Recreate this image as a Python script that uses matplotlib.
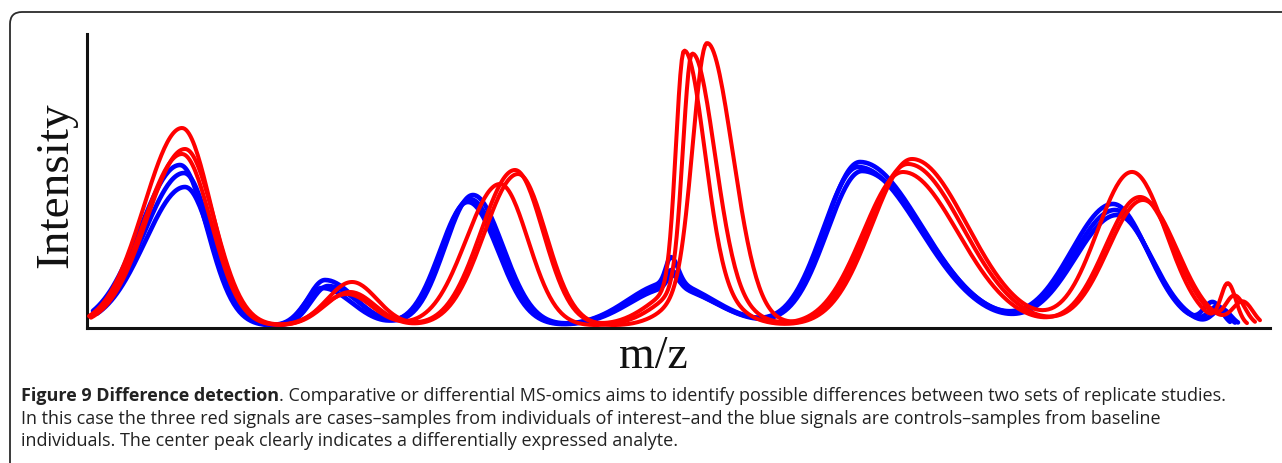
import numpy as np
import matplotlib.pyplot as plt
from matplotlib.patches import FancyBboxPatch
from matplotlib.transforms import IdentityTransform

# peak tables (x in axis pixels from the y-axis, height in pixels above the x-axis)
# each row is one replicate; columns are the peaks left to right
blue_center = [[93, 238, 386, 581, 584, 773, 1026, 1126],
               [97, 235, 381, 583, 585, 771, 1030, 1131],
               [98, 241, 383, 581, 584, 775, 1028, 1135]]
blue_height = [[161, 46, 131, 43, 26, 164, 122, 22],
               [153, 38, 124, 38, 13, 159, 111, 18],
               [139, 40, 127, 40, 16, 155, 116, 16]]
blue_left = [40, 17, 28, 40, 5, 35, 42, 9]
blue_right = [27, 30, 30, 45, 7, 62, 35, 9]
blue_start = [6, 8, 10]
blue_end = [1143, 1148, 1151]

red_center = [[95, 265, 428, 597, 603, 825, 1045, 1141],
              [98, 260, 413, 605, 611, 816, 1053, 1148],
              [95, 263, 431, 620, 621, 821, 1056, 1156]]
red_height = [[198, 44, 156, 233, 43, 167, 154, 40],
              [177, 32, 142, 230, 43, 154, 129, 28],
              [172, 34, 152, 240, 43, 162, 126, 23]]
red_left = [[38, 25, 34, 8, 35, 40, 35, 7],
            [38, 25, 34, 9, 35, 40, 35, 9],
            [38, 25, 34, 14, 32, 40, 35, 10]]
red_right = [[29, 25, 28, 20, 35, 55, 34, 8],
             [29, 25, 28, 22, 35, 55, 34, 10],
             [29, 25, 28, 25, 32, 55, 34, 10]]
red_start = [2, 4, 3]
red_end = [1160, 1168, 1173]

caption_bold = "Figure 9 Difference detection"
caption_1 = (". Comparative or differential MS-omics aims to identify possible "
             "differences between two sets of replicate studies.")
caption_2 = ("In this case the three red signals are cases\u2013samples from individuals "
             "of interest\u2013and the blue signals are controls\u2013samples from baseline")
caption_3 = "individuals. The center peak clearly indicates a differentially expressed analyte."

W, H = 1282, 463


def signal(x, centers, heights, lefts, rights):
    y = np.full_like(x, 2.0)
    for c, h, sl, sr in zip(centers, heights, lefts, rights):
        s = np.where(x < c, sl, sr)
        y += h * np.exp(-0.5 * ((x - c) / s) ** 2)
    return y


fig = plt.figure(figsize=(W / 100, H / 100), dpi=100)

# rounded frame around the figure panel
frame = FancyBboxPatch((10, -30), 1320, H - 12 + 30,
                       boxstyle="round,pad=0,rounding_size=12",
                       transform=IdentityTransform(), facecolor='none',
                       edgecolor='#2b2b2b', linewidth=1.3)
fig.patches.append(frame)

ax = fig.add_axes([87 / W, 1 - 328 / H, 1183 / W, 294 / H])
ax.set_xlim(0, 1183)
ax.set_ylim(0, 294)

for i in range(3):
    x = np.linspace(blue_start[i], blue_end[i], 800)
    ax.plot(x, signal(x, blue_center[i], blue_height[i], blue_left, blue_right),
            color='#0000ff', lw=3.3, solid_capstyle='round', zorder=2)
for i in range(3):
    x = np.linspace(red_start[i], red_end[i], 800)
    ax.plot(x, signal(x, red_center[i], red_height[i], red_left[i], red_right[i]),
            color='#ff0000', lw=2.9, solid_capstyle='round', zorder=3)

for side in ['top', 'right']:
    ax.spines[side].set_visible(False)
for side in ['left', 'bottom']:
    ax.spines[side].set_linewidth(2.2)
    ax.spines[side].set_color('#111111')
ax.set_xticks([])
ax.set_yticks([])
ax.patch.set_alpha(0)

fig.text(56 / W, 1 - 185 / H, 'Intensity', rotation=90, ha='center', va='center',
         fontsize=34, family='Liberation Serif', color='#111111')
fig.text(653 / W, 1 - 368 / H, 'm/z', ha='center', va='baseline',
         fontsize=33, family='Liberation Serif', color='#111111')

cap_font = dict(family='Open Sans', fontsize=13.0, color='#222222', va='baseline')
tb = fig.text(21 / W, 1 - 401 / H, caption_bold, weight='bold', **cap_font)
fig.canvas.draw()
bb = tb.get_window_extent()
fig.text(bb.x1 / W, 1 - 401 / H, caption_1, **cap_font)
fig.text(21 / W, 1 - 423.5 / H, caption_2, **cap_font)
fig.text(21 / W, 1 - 446 / H, caption_3, **cap_font)

fig.savefig('out.png', dpi=100)
